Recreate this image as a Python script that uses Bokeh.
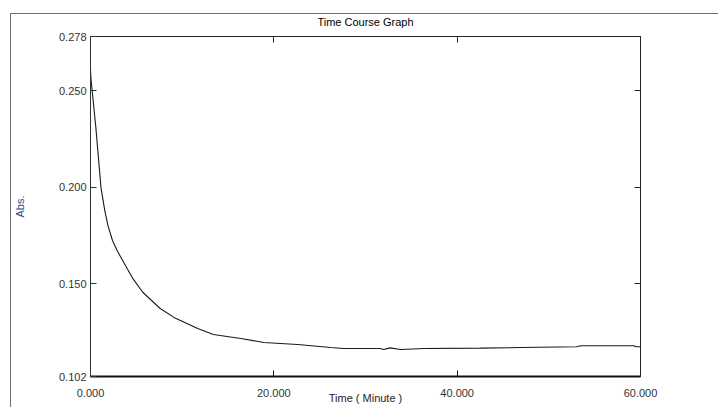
from bokeh.plotting import figure
from bokeh.models import (LinearAxis, FixedTicker, PrintfTickFormatter, Range1d)
from bokeh.embed import file_html
from bokeh.resources import INLINE

# ---- data ----
time_min = [0.0, 0.05, 0.18, 0.58, 1.15, 1.56, 1.9, 2.4, 2.9, 4.55, 5.7, 7.6,
            9.1, 11.7, 13.4, 16.4, 18.9, 22.6, 26.2, 27.6, 31.6, 32.0, 32.7,
            33.8, 36.5, 42.5, 47.0, 53.0, 53.5, 59.3, 59.5, 60.0]
absorbance = [0.2607, 0.2560, 0.2500, 0.2311, 0.1995, 0.1879, 0.1802, 0.1724,
              0.1672, 0.1532, 0.1456, 0.1372, 0.1326, 0.1268, 0.1237, 0.1217,
              0.1196, 0.1186, 0.1170, 0.1165, 0.1165, 0.1160, 0.1168, 0.1160,
              0.1165, 0.1167, 0.1170, 0.1174, 0.1179, 0.1179, 0.1174, 0.1174]
x_ticks = [0, 20, 40, 60]
y_ticks = [0.102, 0.150, 0.200, 0.250, 0.278]
y_inner_ticks = [0.150, 0.200, 0.250]
x_inner_ticks = [20, 40]
title_text = "Time Course Graph"
x_label = "Time ( Minute )"
y_label = "Abs."

FONT = "Liberation Sans"

p = figure(width=718, height=407, output_backend="svg", toolbar_location=None,
           x_range=Range1d(0, 60), y_range=Range1d(0.102, 0.278),
           min_border_left=90, min_border_right=78, min_border_top=36,
           min_border_bottom=31, x_axis_location=None, y_axis_location=None)

p.background_fill_color = "white"
p.border_fill_color = None
p.outline_line_color = "#222222"
p.outline_line_width = 1
p.grid.visible = False
p.styles = {
    "background": "linear-gradient(#707070,#707070) 10px 13px / 708px 1px no-repeat, "
                  "linear-gradient(#707070,#707070) 10px 13px / 1px 394px no-repeat, white"
}

p.title.text = title_text
p.title.align = "center"
p.title.text_font = FONT
p.title.text_font_size = "11px"
p.title.text_font_style = "normal"
p.title.text_color = "#000000"
p.title.standoff = 17

# bottom axis
xb = LinearAxis(ticker=FixedTicker(ticks=x_ticks),
                formatter=PrintfTickFormatter(format="%.3f"),
                axis_label=x_label)
xb.major_tick_in = 6
xb.major_tick_out = 0
xb.minor_tick_line_color = None
xb.axis_line_width = 2
xb.axis_line_color = "#111111"
xb.major_tick_line_color = "#111111"
xb.major_label_standoff = 12
xb.major_label_text_font = FONT
xb.major_label_text_font_size = "11px"
xb.major_label_text_color = "#333333"
xb.axis_label_text_font = FONT
xb.axis_label_text_font_size = "11px"
xb.axis_label_text_font_style = "normal"
xb.axis_label_text_color = "#222222"
xb.axis_label_standoff = -8
p.add_layout(xb, "below")

# left axis
yl = LinearAxis(ticker=FixedTicker(ticks=y_ticks),
                formatter=PrintfTickFormatter(format="%.3f"),
                axis_label=y_label)
yl.major_tick_in = 6
yl.major_tick_out = 0
yl.minor_tick_line_color = None
yl.axis_line_color = "#333333"
yl.major_tick_line_color = "#333333"
yl.major_label_standoff = 4
yl.major_label_text_font = FONT
yl.major_label_text_font_size = "11px"
yl.major_label_text_color = "#333333"
yl.axis_label_text_font = FONT
yl.axis_label_text_font_size = "11px"
yl.axis_label_text_font_style = "normal"
yl.axis_label_text_color = "#2a4d8c"
yl.axis_label_standoff = 30
p.add_layout(yl, "left")

# top axis (inner ticks only, no labels)
xt = LinearAxis(ticker=FixedTicker(ticks=x_inner_ticks))
xt.major_tick_in = 6
xt.major_tick_out = 0
xt.minor_tick_line_color = None
xt.major_label_text_font_size = "1px"
xt.major_label_text_color = None
xt.major_label_standoff = 0
xt.axis_line_color = "#222222"
xt.major_tick_line_color = "#222222"
p.add_layout(xt, "above")

# right axis (inner ticks only, no labels)
yr = LinearAxis(ticker=FixedTicker(ticks=y_inner_ticks))
yr.major_tick_in = 6
yr.major_tick_out = 0
yr.minor_tick_line_color = None
yr.major_label_text_font_size = "1px"
yr.major_label_text_color = None
yr.major_label_standoff = 0
yr.axis_line_color = "#222222"
yr.major_tick_line_color = "#222222"
p.add_layout(yr, "right")

p.line(time_min, absorbance, line_color="#1a1a1a", line_width=1.1)

open("out.html", "w").write(file_html(p, INLINE))
